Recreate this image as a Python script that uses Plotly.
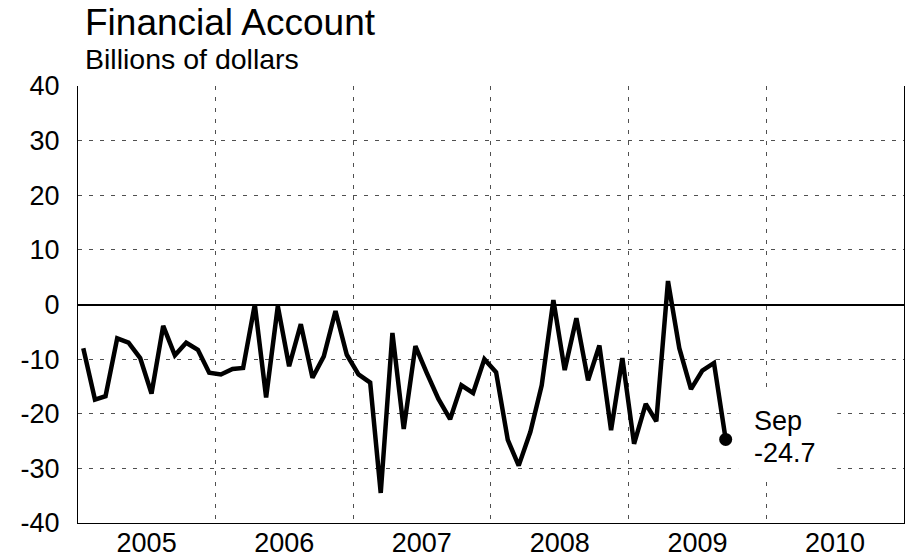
import plotly.graph_objects as go

months = ["2005-01", "2005-02", "2005-03", "2005-04", "2005-05", "2005-06",
          "2005-07", "2005-08", "2005-09", "2005-10", "2005-11", "2005-12",
          "2006-01", "2006-02", "2006-03", "2006-04", "2006-05", "2006-06",
          "2006-07", "2006-08", "2006-09", "2006-10", "2006-11", "2006-12",
          "2007-01", "2007-02", "2007-03", "2007-04", "2007-05", "2007-06",
          "2007-07", "2007-08", "2007-09", "2007-10", "2007-11", "2007-12",
          "2008-01", "2008-02", "2008-03", "2008-04", "2008-05", "2008-06",
          "2008-07", "2008-08", "2008-09", "2008-10", "2008-11", "2008-12",
          "2009-01", "2009-02", "2009-03", "2009-04", "2009-05", "2009-06",
          "2009-07", "2009-08", "2009-09"]

values = [-8.0, -17.4, -16.8, -6.2, -7.0, -9.8, -16.3, -3.9, -9.3, -7.0, -8.3, -12.5,
          -12.8, -11.8, -11.6, 0.0, -17.0, -0.3, -11.3, -3.6, -13.4, -9.5, -1.2, -9.2,
          -12.8, -14.3, -34.5, -5.2, -22.8, -7.6, -12.5, -17.3, -21.0, -14.8, -16.2, -10.0,
          -12.4, -24.8, -29.5, -23.3, -14.8, 0.8, -12.0, -2.5, -13.9, -7.5, -23.0, -9.8,
          -25.5, -18.2, -21.4, 4.3, -8.0, -15.5, -12.1, -10.7, -24.7]

years = ["2005", "2006", "2007", "2008", "2009", "2010"]
y_ticks = [-40, -30, -20, -10, 0, 10, 20, 30, 40]

last_label = "Sep"

x_dates = [m + "-15" for m in months]
tick_pos = [y + "-07-02" for y in years]
year_bounds = [y + "-01-01" for y in years[1:]]

font = "Liberation Sans, Arial, sans-serif"
GRID = "#505050"
DASH = "4px,7px"

# plot area in page pixels
L, T, W, H = 78, 86, 826, 437

fig = go.Figure()
fig.add_trace(go.Scatter(
    x=x_dates, y=values, mode="lines",
    line=dict(color="black", width=4.5),
    hoverinfo="skip", showlegend=False))
fig.add_trace(go.Scatter(
    x=[x_dates[-1]], y=[values[-1]], mode="markers",
    marker=dict(color="black", size=13),
    hoverinfo="skip", showlegend=False))

# white box behind the end label
fig.add_shape(type="rect", xref="x", yref="y",
              x0="2009-10-18", x1="2010-07-08", y0=-31.3, y1=-16.0,
              fillcolor="white", line=dict(width=0), layer="above")

fig.add_annotation(x="2009-11-25", y=-21.4, xref="x", yref="y",
                   text=last_label, showarrow=False,
                   xanchor="left", yanchor="middle", align="left",
                   font=dict(family=font, size=27, color="black"))
fig.add_annotation(x="2009-11-25", y=-27.1, xref="x", yref="y",
                   text=str(values[-1]), showarrow=False,
                   xanchor="left", yanchor="middle", align="left",
                   font=dict(family=font, size=27, color="black"))

fig.add_annotation(text="Financial Account", xref="paper", yref="paper",
                   x=(83 - L) / W, y=1 + (T - 23) / H, xanchor="left", yanchor="middle",
                   showarrow=False, font=dict(family=font, size=37, color="black"))
fig.add_annotation(text="Billions of dollars", xref="paper", yref="paper",
                   x=(83 - L) / W, y=1 + (T - 59) / H, xanchor="left", yanchor="middle",
                   showarrow=False, font=dict(family=font, size=28.5, color="black"))

fig.update_layout(
    width=906, height=560,
    margin=dict(l=L, r=906 - L - W, t=T, b=560 - T - H),
    paper_bgcolor="white", plot_bgcolor="white",
    font=dict(family=font, color="black"),
)

fig.update_xaxes(
    type="date", range=["2005-01-01", "2011-01-01"],
    tickvals=tick_pos, ticktext=years, ticks="",
    tickfont=dict(family=font, size=27, color="black"),
    showgrid=False, showline=True, linecolor="black", linewidth=1,
    minor=dict(tickvals=year_bounds, showgrid=True, gridcolor=GRID,
               griddash=DASH, gridwidth=1, ticks=""),
    zeroline=False, automargin=False, ticklabelstandoff=-4)
fig.update_yaxes(
    range=[-40, 40], tickvals=y_ticks, ticktext=[str(v) for v in y_ticks], ticks="",
    tickfont=dict(family=font, size=27, color="black"),
    showgrid=True, gridcolor=GRID, griddash=DASH, gridwidth=1,
    zeroline=True, zerolinecolor="black", zerolinewidth=2,
    showline=True, linecolor="black", linewidth=1, mirror=True,
    ticklabelstandoff=12, automargin=False)

fig.write_html(
    "out.html",
    config={"displayModeBar": False, "staticPlot": True},
    post_script="document.body.style.margin='0';document.body.style.overflow='hidden';")
